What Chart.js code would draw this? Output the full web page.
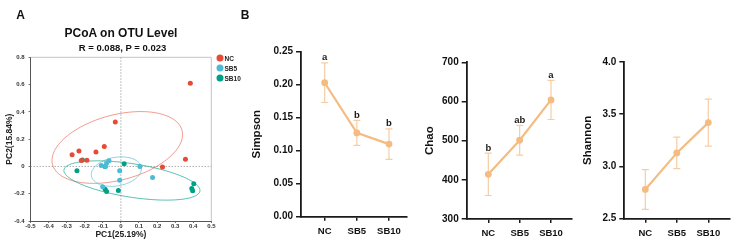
<!DOCTYPE html>
<html>
<head>
<meta charset="utf-8">
<script src="https://cdn.jsdelivr.net/npm/chart.js@4.4.1/dist/chart.umd.min.js"></script>
<style>
  body { margin: 0; background: #fff; }
  #wrap { position: relative; width: 739px; height: 244px; overflow: hidden; font-family: "Liberation Sans", Arial, sans-serif; }
  #wrap canvas { position: absolute; left: 0; top: 0; }
  .txt { position: absolute; font-weight: bold; color: #111; white-space: nowrap; transform: translate(-50%, -50%); }
  .leg { position: absolute; font-weight: bold; font-size: 6.5px; color: #222; white-space: nowrap; transform: translateY(-50%); }
  .dot { position: absolute; width: 7px; height: 7px; border-radius: 50%; transform: translate(-50%, -50%); }
</style>
</head>
<body>
<div id="wrap">
  <canvas id="pcoaChart" width="739" height="244"></canvas>
  <canvas id="simpsonChart" width="739" height="244"></canvas>
  <canvas id="chaoChart" width="739" height="244"></canvas>
  <canvas id="shannonChart" width="739" height="244"></canvas>

  <div class="txt" style="left:20.5px;top:15px;font-size:12px">A</div>
  <div class="txt" style="left:245px;top:15px;font-size:12px">B</div>
  <div class="txt" style="left:121px;top:33px;font-size:12px">PCoA on OTU Level</div>
  <div class="txt" style="left:122.5px;top:47px;font-size:9.5px">R = 0.088, P = 0.023</div>

  <div class="dot" style="left:220px;top:57.5px;background:#E64B35"></div>
  <div class="leg" style="left:224.5px;top:57.5px">NC</div>
  <div class="dot" style="left:220px;top:67.5px;background:#4DBBD5"></div>
  <div class="leg" style="left:224.5px;top:67.5px">SB5</div>
  <div class="dot" style="left:220px;top:77.5px;background:#00A087"></div>
  <div class="leg" style="left:224.5px;top:77.5px">SB10</div>
</div>

<script>
// ---- data ----

// PCoA sample scores (PC1, PC2)
const ncPC1 = [0.384, -0.031, -0.092, -0.138, -0.232, -0.270, -0.188, -0.219, 0.357, 0.230];
const ncPC2 = [0.610, 0.325, 0.147, 0.106, 0.113, 0.085, 0.046, 0.043, 0.053, -0.005];
const sb5PC1 = [-0.109, -0.085, -0.066, -0.079, -0.007, -0.007, 0.105, 0.175, -0.101];
const sb5PC2 = [0.007, 0.000, 0.041, 0.025, -0.032, -0.101, 0.000, -0.082, -0.149];
const sb10PC1 = [-0.213, -0.243, -0.088, 0.018, -0.087, -0.079, -0.014, 0.403, 0.392, 0.397];
const sb10PC2 = [0.048, -0.031, 0.000, 0.020, -0.168, -0.183, -0.176, -0.127, -0.161, -0.178];

// group ellipses: centre, first semi-axis, second semi-axis (PC units)
const ncEllipse = [[-0.020, 0.139], [0.358, 0.126], [0.047, -0.231]];
const sb5Ellipse = [[-0.025, -0.038], [0.138, 0.032], [0.014, -0.103]];
const sb10Ellipse = [[0.061, -0.103], [0.376, -0.078], [-0.015, -0.121]];

// alpha diversity (mean, sd) per group
const groups = ['NC', 'SB5', 'SB10'];
const simpsonMean = [0.203, 0.127, 0.110];
const simpsonSd = [0.030, 0.019, 0.023];
const simpsonSig = ['a', 'b', 'b'];
const chaoMean = [414, 501, 604];
const chaoSd = [54, 38, 50];
const chaoSig = ['b', 'ab', 'a'];
const shannonMean = [2.78, 3.13, 3.42];
const shannonSd = [0.19, 0.15, 0.225];
const shannonSig = ['', '', ''];

// ---- setup ----
Chart.defaults.font.family = "'Liberation Sans', Arial, sans-serif";
Chart.defaults.color = '#111';
Chart.defaults.animation = false;

const W = 739, H = 244;
const orange = '#F4BC82';
const orangeLight = '#F6CDA3';

function toPoints(xs, ys) {
  return xs.map((x, i) => ({ x: x, y: ys[i] }));
}

// lock the scale box size so the plot area lands where we want it
function fixWidth(w) {
  return function (s) {
    s.width = w;
    s.paddingTop = s.paddingBottom = s.paddingLeft = s.paddingRight = 0;
  };
}
function fixHeight(h) {
  return function (s) {
    s.height = h;
    s.paddingTop = s.paddingBottom = s.paddingLeft = s.paddingRight = 0;
  };
}

function pcLabel(v) {
  return Math.abs(v) < 1e-9 ? '0' : v.toFixed(1);
}

// PCoA decorations: frame, zero lines, ellipses
const pcoaDecor = {
  id: 'pcoaDecor',
  beforeDatasetsDraw(chart) {
    const { ctx, chartArea: a, scales: { x, y } } = chart;
    ctx.save();
    // top / right frame
    ctx.strokeStyle = '#b5b5b5';
    ctx.lineWidth = 0.8;
    ctx.beginPath();
    ctx.moveTo(a.left, a.top); ctx.lineTo(a.right, a.top); ctx.lineTo(a.right, a.bottom);
    ctx.stroke();
    // dotted zero lines
    ctx.strokeStyle = '#8a8a8a';
    ctx.lineWidth = 0.7;
    ctx.setLineDash([1.5, 1.5]);
    ctx.beginPath();
    const x0 = x.getPixelForValue(0), y0 = y.getPixelForValue(0);
    ctx.moveTo(x0, a.top); ctx.lineTo(x0, a.bottom);
    ctx.moveTo(a.left, y0); ctx.lineTo(a.right, y0);
    ctx.stroke();
    ctx.setLineDash([]);
    // ellipses
    const ells = [[ncEllipse, 'rgba(230,75,53,0.55)'], [sb5Ellipse, 'rgba(77,187,213,0.65)'], [sb10Ellipse, 'rgba(0,160,135,0.65)']];
    ells.forEach(([e, col]) => {
      const c = e[0], u = e[1], v = e[2];
      ctx.strokeStyle = col;
      ctx.lineWidth = 1;
      ctx.beginPath();
      for (let k = 0; k <= 120; k++) {
        const t = k / 120 * Math.PI * 2;
        const px = x.getPixelForValue(c[0] + u[0] * Math.cos(t) + v[0] * Math.sin(t));
        const py = y.getPixelForValue(c[1] + u[1] * Math.cos(t) + v[1] * Math.sin(t));
        if (k === 0) ctx.moveTo(px, py); else ctx.lineTo(px, py);
      }
      ctx.closePath();
      ctx.stroke();
    });
    ctx.restore();
  }
};

// PCoA scatter
const pcoaBox = { left: 30.5, right: 211.3, top: 57.3, bottom: 221, titleX: 9.2 };
const pcTickFont = { size: 6, weight: 'bold' };
const pcTitleFont = { size: 8.5, weight: 'bold' };
new Chart(document.getElementById('pcoaChart'), {
  type: 'scatter',
  data: {
    datasets: [
      { label: 'NC', data: toPoints(ncPC1, ncPC2), backgroundColor: '#E64B35' },
      { label: 'SB5', data: toPoints(sb5PC1, sb5PC2), backgroundColor: '#4DBBD5' },
      { label: 'SB10', data: toPoints(sb10PC1, sb10PC2), backgroundColor: '#00A087' }
    ]
  },
  options: {
    responsive: false,
    devicePixelRatio: 1,
    elements: { point: { radius: 2.5, borderWidth: 0 } },
    layout: { padding: { left: pcoaBox.titleX - 5.1, top: pcoaBox.top, right: W - pcoaBox.right, bottom: 0 } },
    plugins: { legend: { display: false }, tooltip: { enabled: false } },
    scales: {
      x: {
        type: 'linear', min: -0.5, max: 0.5,
        afterFit: fixHeight(H - pcoaBox.bottom),
        ticks: { stepSize: 0.1, padding: 0, font: pcTickFont, color: '#333', callback: pcLabel, maxRotation: 0, autoSkip: false },
        grid: { drawOnChartArea: false, drawTicks: true, tickLength: 2, color: '#555', lineWidth: 0.8 },
        border: { display: true, color: '#555', width: 1 },
        title: { display: true, text: 'PC1(25.19%)', font: pcTitleFont, color: '#222', padding: { top: 0, bottom: 4 } }
      },
      y: {
        type: 'linear', min: -0.4, max: 0.8,
        afterFit: fixWidth(pcoaBox.left - (pcoaBox.titleX - 5.1)),
        ticks: { stepSize: 0.2, padding: 4, font: pcTickFont, color: '#333', callback: pcLabel, autoSkip: false },
        grid: { drawOnChartArea: false, drawTicks: true, tickLength: 2, color: '#555', lineWidth: 0.8 },
        border: { display: true, color: '#555', width: 1 },
        title: { display: true, text: 'PC2(15.84%)', font: pcTitleFont, color: '#222', padding: { top: 0, bottom: 0 } }
      }
    }
  },
  plugins: [pcoaDecor]
});

// error bars + significance letters for the line charts
function errorBars(mean, sd, sig) {
  return {
    id: 'errorBars',
    beforeDatasetsDraw(chart) {
      const { ctx, scales: { x, y } } = chart;
      ctx.save();
      ctx.strokeStyle = orangeLight;
      ctx.lineWidth = 1.2;
      mean.forEach((m, i) => {
        const px = x.getPixelForValue(i);
        const top = y.getPixelForValue(m + sd[i]);
        const bot = y.getPixelForValue(m - sd[i]);
        ctx.beginPath();
        ctx.moveTo(px, top); ctx.lineTo(px, bot);
        ctx.moveTo(px - 3.5, top); ctx.lineTo(px + 3.5, top);
        ctx.moveTo(px - 3.5, bot); ctx.lineTo(px + 3.5, bot);
        ctx.stroke();
      });
      ctx.restore();
    },
    afterDatasetsDraw(chart) {
      const { ctx, scales: { x, y } } = chart;
      ctx.save();
      ctx.fillStyle = '#1a1a1a';
      ctx.font = "bold 9.5px 'Liberation Sans', Arial, sans-serif";
      ctx.textAlign = 'center';
      ctx.textBaseline = 'alphabetic';
      sig.forEach((s, i) => {
        if (!s) return;
        ctx.fillText(s, x.getPixelForValue(i), y.getPixelForValue(mean[i] + sd[i]) - 2.5);
      });
      ctx.restore();
    }
  };
}

function lineChart(id, box, yTitle, yMin, yMax, yStep, decimals, mean, sd, sig) {
  const titleSize = 11.5;
  const padLeft = box.titleX - titleSize * 1.2 / 2;
  return new Chart(document.getElementById(id), {
    type: 'line',
    data: {
      datasets: [{
        data: toPoints(mean.map((m, i) => i), mean),
        borderColor: orange,
        backgroundColor: orange,
        borderWidth: 2.2,
        pointRadius: 3.4,
        pointBorderWidth: 0,
        pointBackgroundColor: orange,
        clip: false
      }]
    },
    options: {
      responsive: false,
      devicePixelRatio: 1,
      layout: { padding: { left: padLeft, top: box.top, right: W - box.right, bottom: 0 } },
      plugins: { legend: { display: false }, tooltip: { enabled: false } },
      scales: {
        x: {
          type: 'linear', min: box.xMin, max: box.xMax,
          afterFit: fixHeight(H - box.bottom),
          afterBuildTicks: s => { s.ticks = groups.map((g, i) => ({ value: i })); },
          ticks: { padding: 5, font: { size: 9.5, weight: 'bold' }, color: '#111', maxRotation: 0, autoSkip: false, callback: v => groups[v] },
          grid: { drawOnChartArea: false, drawTicks: true, tickLength: 4, color: '#1a1a1a', lineWidth: 1.5 },
          border: { display: true, color: '#1a1a1a', width: 1.8 }
        },
        y: {
          type: 'linear', min: yMin, max: yMax,
          afterFit: fixWidth(box.left - padLeft),
          ticks: { stepSize: yStep, padding: 3, font: { size: 10, weight: 'bold' }, color: '#111', autoSkip: false, callback: v => v.toFixed(decimals) },
          grid: { drawOnChartArea: false, drawTicks: true, tickLength: 5, color: '#1a1a1a', lineWidth: 1.5 },
          border: { display: true, color: '#1a1a1a', width: 1.8 },
          title: { display: true, text: yTitle, font: { size: titleSize, weight: 'bold' }, color: '#111', padding: { top: 0, bottom: 0 } }
        }
      }
    },
    plugins: [errorBars(mean, sd, sig)]
  });
}

lineChart('simpsonChart', { left: 301, right: 407, top: 51.7, bottom: 216.7, xMin: -0.737, xMax: 2.56, titleX: 256.8 },
  'Simpson', 0, 0.25, 0.05, 2, simpsonMean, simpsonSd, simpsonSig);
lineChart('chaoChart', { left: 466.7, right: 571.7, top: 62.3, bottom: 219, xMin: -0.69, xMax: 2.66, titleX: 430.3 },
  'Chao', 300, 700, 100, 0, chaoMean, chaoSd, chaoSig);
lineChart('shannonChart', { left: 624.3, right: 729.3, top: 62, bottom: 218.7, xMin: -0.667, xMax: 2.667, titleX: 588.3 },
  'Shannon', 2.5, 4.0, 0.5, 1, shannonMean, shannonSd, shannonSig);
</script>
</body>
</html>
